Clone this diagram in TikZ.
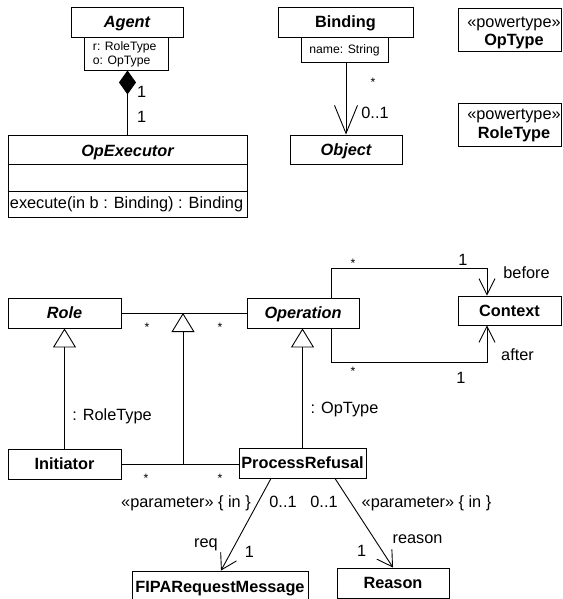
\documentclass[tikz,border=0pt]{standalone}
\usepackage{fontspec}
\setmainfont{Liberation Sans}
\usetikzlibrary{arrows.meta}
\newcommand\txtM{\fontsize{16.3}{19.5}\selectfont}
\newcommand\txtS{\fontsize{12.2}{14}\selectfont}
\begin{document}
\begin{tikzpicture}[x=1pt,y=-1pt,
  line width=0.9pt,
  box/.style={draw, inner sep=0pt, text height=11.7pt, text depth=0pt, font=\txtM\bfseries},
  abstractbox/.style={box, font=\txtM\bfseries\itshape},
  plainbox/.style={draw, inner sep=0pt},
  lbl/.style={inner sep=0pt, anchor=base, font=\txtM},
  smalltxt/.style={inner sep=0pt, anchor=base west, font=\txtS},
  star/.style={inner sep=0pt, anchor=base, font=\txtS},
  gen/.style={arrows={-{Triangle[open,length=19pt,width=23pt]}}},
  compo/.style={arrows={{Diamond[length=24pt,width=17pt]}-}},
  navbig/.style={arrows={-{Straight Barb[length=28pt,width=23pt]}}},
  nav/.style={arrows={-{Straight Barb[length=16pt,width=16pt]}}},
  navparam/.style={arrows={-{Straight Barb[length=15pt,width=18pt]}}},
]
\useasboundingbox (0,0) rectangle (562,599);
\clip (0,0) rectangle (562,599);

% ---- Agent and its executor
\node[abstractbox, minimum width=112pt, minimum height=30pt] (agent) at (127,22) {Agent};
\node[plainbox, minimum width=84pt, minimum height=33pt] (agentattr) at (126,53.5) {};
\node[smalltxt] (attr1) at (92.5,51) {r: RoleType};
\node[smalltxt] (attr2) at (92.5,65) {o: OpType};
\node[plainbox, minimum width=239pt, minimum height=82pt] (opexec) at (127.5,176) {};
\node[lbl, font=\txtM\bfseries\itshape] (opexectitle) at (127.5,156.7) {OpExecutor};
\draw (opexec.west |- 0,164) -- (opexec.east |- 0,164);
\draw (opexec.west |- 0,191) -- (opexec.east |- 0,191);
\node[lbl, anchor=base west] (execop) at (9.5,208) {execute(in b : Binding) : Binding};
\draw[compo] (opexec.north |- agentattr.south) -- (opexec.north);
\node[lbl] (m1) at (141.7,97.8) {1};
\node[lbl] (m2) at (141.7,122.8) {1};

% ---- Binding and Object
\node[box, minimum width=135pt, minimum height=30pt] (binding) at (345.5,22) {Binding};
\node[plainbox, minimum width=87pt, minimum height=25pt, font=\txtS, text height=8.7pt, text depth=0pt] (bindattr) at (344.5,49.5) {name: String};
\node[abstractbox, minimum width=112pt, minimum height=29pt] (object) at (346,149.5) {Object};
\draw[navbig] (object.north |- bindattr.south) -- (object.north);
\node[star] (s0) at (373,87) {*};
\node[lbl] (m3) at (375,118.3) {0..1};

% ---- powertypes
\node[plainbox, minimum width=103pt, minimum height=43pt] (optype) at (509.5,29.5) {};
\node[lbl] (optypeS) at (514,27.5) {«powertype»};
\node[lbl, font=\txtM\bfseries] (optypeN) at (514,46) {OpType};
\node[plainbox, minimum width=103pt, minimum height=43pt] (roletype) at (509.5,124.5) {};
\node[lbl] (roletypeS) at (514,119) {«powertype»};
\node[lbl, font=\txtM\bfseries] (roletypeN) at (514,138) {RoleType};

% ---- roles and operations
\node[abstractbox, minimum width=113pt, minimum height=30pt] (role) at (64.5,313) {Role};
\node[abstractbox, minimum width=112pt, minimum height=30pt] (operation) at (303,313) {Operation};
\node[box, minimum width=103pt, minimum height=29pt] (context) at (509.5,310.5) {Context};
\node[box, minimum width=113pt, minimum height=30pt] (initiator) at (64.5,464) {Initiator};
\node[box, minimum width=127pt, minimum height=30pt] (procref) at (302.5,463) {ProcessRefusal};
\node[box, minimum width=176pt, minimum height=32pt] (fipa) at (220,587) {FIPARequestMessage};
\node[box, minimum width=112pt, minimum height=30pt] (reason) at (393,583) {Reason};

\draw (role.east) -- (operation.west);
\draw (initiator.east) -- (initiator.east -| procref.west);
\coordinate (upj) at (183,313);
\coordinate (lowj) at (183,464);
\draw[gen] (lowj) -- (upj);
\draw[gen] (initiator.north) -- (role.south);
\draw[gen] (procref.north) -- (procref.north |- operation.south);
\node[star] (s1) at (147,331) {*};
\node[star] (s2) at (220,331) {*};
\node[star] (s3) at (146,482) {*};
\node[star] (s4) at (220,482) {*};
\node[lbl] (rt) at (112,420) {: RoleType};
\node[lbl] (ot) at (344.5,413.5) {: OpType};

% ---- before / after context
\draw[nav] ([xshift=28pt]operation.north) -- ++(0,-29) -| ([xshift=-22.5pt]context.north);
\draw[nav] ([xshift=28pt]operation.south) -- ++(0,34) -| ([xshift=-22.5pt]context.south);
\node[star] (s5) at (353,267) {*};
\node[lbl] (m4) at (463,265) {1};
\node[lbl] (before) at (526.5,278) {before};
\node[star] (s6) at (353,375) {*};
\node[lbl] (m5) at (461,383.3) {1};
\node[lbl] (after) at (517.5,360) {after};

% ---- parameters
\draw[navparam] ([xshift=-31.5pt]procref.south) -- ([xshift=1pt]fipa.north);
\draw[navparam] ([xshift=32.5pt]procref.south) -- (reason.north);
\node[lbl] (p1) at (186,507) {«parameter» \{ in \}};
\node[lbl] (p2) at (426.5,507) {«parameter» \{ in \}};
\node[lbl] (m6) at (283,507) {0..1};
\node[lbl] (m7) at (324,507) {0..1};
\node[lbl] (req) at (206,547) {req};
\node[lbl] (m8) at (249.3,557.3) {1};
\node[lbl] (m9) at (361.7,556.7) {1};
\node[lbl] (rsn) at (417.5,543) {reason};
\end{tikzpicture}
\end{document}
